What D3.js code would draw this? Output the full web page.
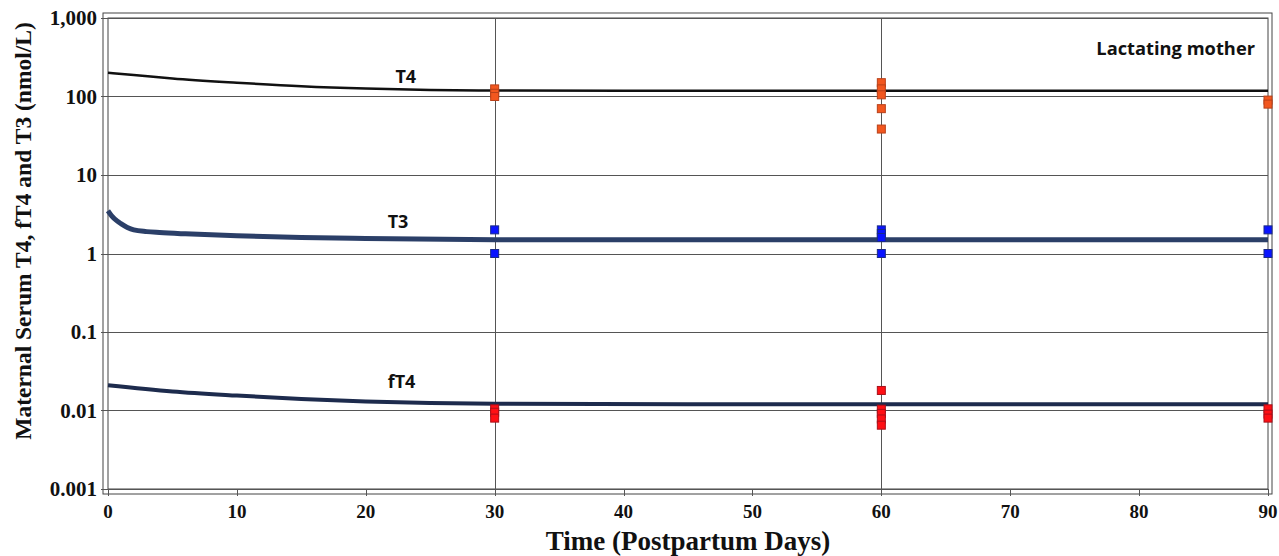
<!DOCTYPE html>
<html><head><meta charset="utf-8">
<script src="https://cdn.jsdelivr.net/npm/d3@7"></script>
<style>body{margin:0;background:#fff}svg{display:block}</style>
</head><body>
<svg id="c" width="1279" height="556"></svg>
<script>
// ---- data ----
const t4Days  = [0, 2, 5, 10, 15, 20, 25, 30, 40, 50, 60, 70, 80, 90];
const t4Model = [200, 188, 170, 150, 135, 126, 121, 119, 118, 118, 118, 118, 118, 118];
const t3Days  = [0, 0.3, 0.7, 1, 1.5, 2, 3, 4, 6, 10, 15, 20, 30, 45, 60, 75, 90];
const t3Model = [3.5, 3.0, 2.6, 2.4, 2.15, 2.0, 1.9, 1.85, 1.78, 1.68, 1.6, 1.55, 1.5, 1.5, 1.5, 1.5, 1.5];
const ft4Days  = [0, 5, 10, 15, 20, 25, 30, 45, 60, 75, 90];
const ft4Model = [0.021, 0.0175, 0.0155, 0.014, 0.013, 0.0125, 0.0122, 0.012, 0.012, 0.012, 0.012];
const t4ObsDays  = [30, 30, 30, 60, 60, 60, 60, 60, 90, 90];
const t4ObsVals  = [125, 110, 100, 150, 125, 105, 70, 38.5, 90, 80];
const t3ObsDays  = [30, 30, 60, 60, 60, 60, 90, 90];
const t3ObsVals  = [2.0, 1.0, 2.0, 1.8, 1.6, 1.0, 2.0, 1.0];
const ft4ObsDays = [30, 30, 30, 60, 60, 60, 60, 60, 90, 90, 90];
const ft4ObsVals = [0.0105, 0.0095, 0.008, 0.018, 0.0104, 0.0092, 0.0078, 0.0065, 0.0105, 0.009, 0.008];
const xTicks = [0, 10, 20, 30, 40, 50, 60, 70, 80, 90];
const xGrid = [30, 60];
const yTicks = [0.001, 0.01, 0.1, 1, 10, 100, 1000];
const yTickLabels = ["0.001", "0.01", "0.1", "1", "10", "100", "1,000"];
const seriesLabels = ["T4", "T3", "fT4"];
const seriesLabelDay = [22.3, 21.7, 21.7];
const title = "Lactating mother";
const xTitle = "Time (Postpartum Days)";
const yTitle = "Maternal Serum T4, fT4 and T3 (nmol/L)";

// ---- layout ----
const L = 108, R = 1268, T = 18, B = 489;
const svg = d3.select("#c");
const x = d3.scaleLinear().domain([0, 90]).range([L, R]);
const y = d3.scaleLog().domain([0.001, 1000]).range([B, T]);
const serif = "'Liberation Serif','Times New Roman',serif";
const sans = "'Open Sans','Lato',sans-serif";

// frames
svg.append("rect").attr("x", L - 5).attr("y", T - 5).attr("width", R - L + 9).attr("height", B - T + 10)
  .attr("fill", "none").attr("stroke", "#444").attr("stroke-width", 1);
svg.append("rect").attr("x", L).attr("y", T).attr("width", R - L).attr("height", B - T)
  .attr("fill", "none").attr("stroke", "#444").attr("stroke-width", 1);

// gridlines
svg.append("g").selectAll("line").data(yTicks).join("line")
  .attr("x1", L - 7).attr("x2", R).attr("y1", d => Math.round(y(d)) + 0.5).attr("y2", d => Math.round(y(d)) + 0.5)
  .attr("stroke", "#555").attr("stroke-width", 1);
svg.append("g").selectAll("line").data(xGrid).join("line")
  .attr("x1", d => Math.round(x(d)) + 0.5).attr("x2", d => Math.round(x(d)) + 0.5).attr("y1", T).attr("y2", B + 7)
  .attr("stroke", "#555").attr("stroke-width", 1);
svg.append("g").selectAll("line").data(xTicks).join("line")
  .attr("x1", d => Math.round(x(d)) + 0.5).attr("x2", d => Math.round(x(d)) + 0.5).attr("y1", B).attr("y2", B + 7)
  .attr("stroke", "#555").attr("stroke-width", 1);

// tick labels
svg.append("g").selectAll("text").data(yTicks).join("text")
  .attr("x", 97).attr("y", d => y(d) + 7).attr("text-anchor", "end")
  .attr("font-family", serif).attr("font-weight", "bold").attr("font-size", 21).attr("fill", "#111")
  .text((d, i) => yTickLabels[i]);
svg.append("g").selectAll("text").data(xTicks).join("text")
  .attr("x", d => x(d)).attr("y", 518).attr("text-anchor", "middle")
  .attr("font-family", serif).attr("font-weight", "bold").attr("font-size", 19).attr("fill", "#111")
  .text(d => d);

// titles
svg.append("text").attr("x", 688).attr("y", 550).attr("text-anchor", "middle")
  .attr("font-family", serif).attr("font-weight", "bold").attr("font-size", 27).attr("fill", "#111").text(xTitle);
svg.append("text").attr("transform", "translate(31,231) rotate(-90)").attr("text-anchor", "middle")
  .attr("font-family", serif).attr("font-weight", "bold").attr("font-size", 23.5).attr("fill", "#111").text(yTitle);
svg.append("text").attr("x", 1255).attr("y", 55).attr("text-anchor", "end")
  .attr("font-family", sans).attr("font-weight", "bold").attr("font-size", 18.3).attr("fill", "#111").text(title);

// model lines
const line = (days, vals) => d3.line().x((d, i) => x(days[i])).y(d => y(d)).curve(d3.curveMonotoneX)(vals);
svg.append("path").attr("d", line(t4Days, t4Model)).attr("fill", "none").attr("stroke", "#111").attr("stroke-width", 2.5);
svg.append("path").attr("d", line(t3Days, t3Model)).attr("fill", "none").attr("stroke", "#2b3f68").attr("stroke-width", 5);
svg.append("path").attr("d", line(ft4Days, ft4Model)).attr("fill", "none").attr("stroke", "#1d2b4d").attr("stroke-width", 4);

// series labels
const labelSets = [[t4Days, t4Model, -6], [t3Days, t3Model, -11], [ft4Days, ft4Model, -14]];
svg.append("g").selectAll("text").data(seriesLabels).join("text")
  .attr("x", (d, i) => x(seriesLabelDay[i])).attr("y", (d, i) => {
    const [days, vals, dy] = labelSets[i];
    const v = d3.scaleLinear().domain(days).range(vals)(seriesLabelDay[i]);
    return y(v) + dy;
  })
  .attr("font-family", sans).attr("font-weight", "bold").attr("font-size", 18).attr("fill", "#111").text(d => d);

// observations
const sq = 8;
function squares(days, vals, fill, stroke) {
  svg.append("g").selectAll("rect").data(vals).join("rect")
    .attr("x", (d, i) => x(days[i]) - sq / 2).attr("y", d => y(d) - sq / 2)
    .attr("width", sq).attr("height", sq).attr("fill", fill).attr("stroke", stroke).attr("stroke-width", 1);
}
squares(t4ObsDays, t4ObsVals, "#f2571f", "#b8411a");
squares(t3ObsDays, t3ObsVals, "#0a14ff", "#1a2a88");
squares(ft4ObsDays, ft4ObsVals, "#ff0f14", "#a8101a");
</script>
</body></html>
